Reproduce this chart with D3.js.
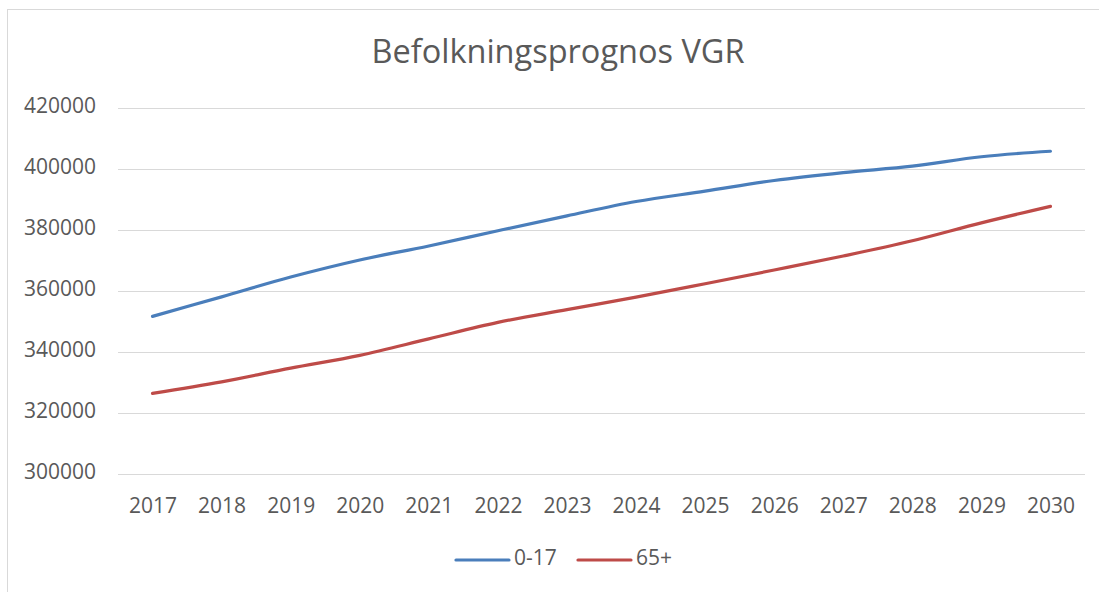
<!DOCTYPE html>
<html>
<head>
<meta charset="utf-8">
<script src="https://cdn.jsdelivr.net/npm/d3@7"></script>
<style>
  html, body { margin: 0; padding: 0; background: #fff; }
  svg { display: block; }
  text { font-family: "Open Sans", "Noto Sans", sans-serif; fill: #595959; }
</style>
</head>
<body>
<svg id="chart" width="1099" height="592"></svg>
<script>
const title = "Befolkningsprognos VGR";
const years = ["2017","2018","2019","2020","2021","2022","2023","2024","2025","2026","2027","2028","2029","2030"];
const series017 = [351600, 358000, 364500, 370100, 374700, 379700, 384600, 389300, 392700, 396200, 398800, 400900, 404000, 405800];
const series65 = [326300, 330100, 334600, 338800, 344200, 349600, 353800, 357900, 362300, 366800, 371400, 376400, 382300, 387700];
const yTicks = [300000, 320000, 340000, 360000, 380000, 400000, 420000];
const seriesNames = ["0-17", "65+"];
const seriesColors = ["#4A7EBB", "#BE4B48"];

const svg = d3.select("#chart");

// chart border
svg.append("rect")
  .attr("x", 7.5).attr("y", 9.5)
  .attr("width", 1110).attr("height", 600)
  .attr("fill", "#fff").attr("stroke", "#D9D9D9").attr("stroke-width", 1);

const x = d3.scalePoint().domain(years).range([118, 1085]).padding(0.5);
const y = d3.scaleLinear().domain([300000, 420000]).range([473.5, 108]);

// gridlines
svg.append("g").selectAll("line").data(yTicks).join("line")
  .attr("x1", 118).attr("x2", 1085)
  .attr("y1", d => Math.round(y(d)) + 0.5).attr("y2", d => Math.round(y(d)) + 0.5)
  .attr("stroke", "#D9D9D9").attr("stroke-width", 1);

// y axis labels
const yAxis = d3.axisLeft(y).tickValues(yTicks).tickSize(0).tickPadding(0).tickFormat(d3.format("d"));
const gy = svg.append("g").attr("transform", "translate(96,0)").call(yAxis);
gy.select(".domain").remove();
gy.selectAll("text").style("font-size", "21px").attr("fill", "#595959")
  .style("font-family", "'Open Sans', sans-serif").attr("dy", "0.22em");

// x axis labels
const xAxis = d3.axisBottom(x).tickSize(0).tickPadding(0);
const gx = svg.append("g").attr("transform", "translate(0,513)").call(xAxis);
gx.select(".domain").remove();
gx.selectAll("text").style("font-size", "21px").attr("fill", "#595959")
  .style("font-family", "'Open Sans', sans-serif").attr("y", 0).attr("dy", "0");

// lines
const line = d3.line()
  .x((d, i) => x(years[i]))
  .y(d => y(d))
  .curve(d3.curveCatmullRom.alpha(0.5));

[series017, series65].forEach((s, i) => {
  svg.append("path")
    .datum(s)
    .attr("d", line)
    .attr("fill", "none")
    .attr("stroke", seriesColors[i])
    .attr("stroke-width", 3.2)
    .attr("stroke-linecap", "round")
    .attr("stroke-linejoin", "round");
});

// title
svg.append("text")
  .attr("x", 558).attr("y", 63)
  .attr("text-anchor", "middle")
  .style("font-size", "32.5px")
  .text(title);

// legend
const legendItems = [
  { name: seriesNames[0], color: seriesColors[0], x0: 456 },
  { name: seriesNames[1], color: seriesColors[1], x0: 578 }
];
const lg = svg.append("g");
legendItems.forEach(it => {
  lg.append("line")
    .attr("x1", it.x0).attr("x2", it.x0 + 53)
    .attr("y1", 560).attr("y2", 560)
    .attr("stroke", it.color).attr("stroke-width", 3.2)
    .attr("stroke-linecap", "round");
  lg.append("text")
    .attr("x", it.x0 + 58).attr("y", 565)
    .style("font-size", "21px")
    .text(it.name);
});
</script>
</body>
</html>
